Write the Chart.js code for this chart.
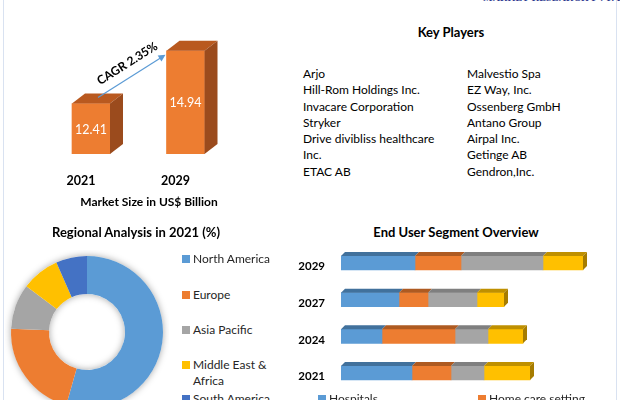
<!DOCTYPE html>
<html>
<head>
<meta charset="utf-8">
<script src="https://cdn.jsdelivr.net/npm/chart.js@4.4.1/dist/chart.umd.min.js"></script>
<style>
  body { margin: 0; width: 620px; height: 400px; overflow: hidden; background: #fff; position: relative; font-family: Lato, "Open Sans", sans-serif; color: #000; }
  .abs { position: absolute; }
  .vline { position: absolute; top: 0; width: 1px; height: 400px; background: #d9e2f1; }
  .title { position: absolute; font-weight: bold; font-size: 13px; white-space: nowrap; transform: translate(-50%, -50%); }
  .col { position: absolute; font-size: 12px; line-height: 16.3px; white-space: nowrap; }
  .leg { position: absolute; font-size: 12px; color: #262626; white-space: nowrap; }
  .leg .sq { display: inline-block; width: 8px; height: 8px; margin-right: 3px; }
</style>
</head>
<body>
<div class="vline" style="left:3px"></div>
<div class="vline" style="left:616px"></div>
<div class="abs" style="left:483px; top:-8px; white-space:nowrap; font: bold 10px 'Liberation Serif', serif; color:#2f3a8f; letter-spacing:0.2px;">MARKET RESEARCH PVT. LTD.</div>

<canvas id="marketChart" class="abs" width="260" height="215" style="left:0; top:0"></canvas>
<div class="title" style="left:149px; top:201px; font-size:12px">Market Size in US$ Billion</div>

<div class="title" style="left:451px; top:32px">Key Players</div>
<div id="playersLeft" class="col" style="left:303px; top:66px"></div>
<div id="playersRight" class="col" style="left:467px; top:66px"></div>

<div class="title" style="left:136px; top:232px">Regional Analysis in 2021 (%)</div>
<canvas id="regionChart" class="abs" width="164" height="164" style="left:5px; top:250px"></canvas>
<div id="regionLegend"></div>

<div class="title" style="left:456px; top:232px">End User Segment Overview</div>
<canvas id="endUserChart" class="abs" width="330" height="160" style="left:290px; top:240px"></canvas>
<div id="endUserLegend"></div>

<script>
// Market size
const years = ['2021', '2029'];
const marketSize = [12.41, 14.94];
const cagrText = 'CAGR 2.35%';

// Key players
const playersLeft = ['Arjo', 'Hill-Rom Holdings Inc.', 'Invacare Corporation', 'Stryker', 'Drive divibliss healthcare', 'Inc.', 'ETAC AB'];
const playersRight = ['Malvestio Spa', 'EZ Way, Inc.', 'Ossenberg GmbH', 'Antano Group', 'Airpal Inc.', 'Getinge AB', 'Gendron,Inc.'];

// Regional analysis 2021 (%)
const regions = ['North America', 'Europe', 'Asia Pacific', 'Middle East & Africa', 'South America'];
const regionShare = [54.4, 21.3, 9.6, 8.1, 6.6];
const regionColors = ['#5b9bd5', '#ed7d31', '#a5a5a5', '#ffc000', '#4472c4'];

// End user segments
const segmentYears = ['2029', '2027', '2024', '2021'];
const hospitals = [7.4, 5.8, 4.1, 7.1];
const homeCare = [4.6, 2.9, 7.3, 3.9];
const nursingFacilities = [8.2, 4.9, 3.3, 3.3];
const others = [4.0, 2.7, 3.5, 4.6];
const segmentNames = ['Hospitals', 'Home care setting', 'Nursing facilities', 'Others'];
const segmentColors = ['#5b9bd5', '#ed7d31', '#a5a5a5', '#ffc000'];
const segmentTops = ['#41719c', '#ae5a21', '#7f7f7f', '#bf9000'];

document.getElementById('playersLeft').innerHTML = playersLeft.join('<br>');
document.getElementById('playersRight').innerHTML = playersRight.join('<br>');

// ---------- 3D look for the market bars ----------
const marketFaces = {
    id: 'marketFaces',
    afterDatasetsDraw(chart) {
        const ctx = chart.ctx;
        const bars = chart.getDatasetMeta(0).data;
        const dx = 13, dy = 10;
        ctx.save();
        bars.forEach((bar, i) => {
            const p = bar.getProps(['x', 'y', 'base', 'width'], true);
            const x = p.x, y = p.y, width = p.width;
            const base = Math.min(p.base, chart.chartArea.bottom);
            const l = x - width / 2, r = x + width / 2;
            // top
            ctx.fillStyle = '#b9591f';
            ctx.beginPath();
            ctx.moveTo(l, y); ctx.lineTo(l + dx, y - dy); ctx.lineTo(r + dx, y - dy); ctx.lineTo(r, y);
            ctx.closePath(); ctx.fill();
            // side
            ctx.fillStyle = '#9b4b1d';
            ctx.beginPath();
            ctx.moveTo(r, y); ctx.lineTo(r + dx, y - dy); ctx.lineTo(r + dx, base - dy); ctx.lineTo(r, base);
            ctx.closePath(); ctx.fill();
            // value
            ctx.fillStyle = '#fff';
            ctx.font = '12.5px Lato';
            ctx.textAlign = 'center';
            ctx.textBaseline = 'middle';
            ctx.fillText(marketSize[i].toFixed(2), x, (y + base) / 2 + 1);
        });
        // CAGR arrow
        const b1 = bars[0], b2 = bars[1];
        const sx = b1.x + 7, sy = b1.y - 6;
        const ex = b2.x - b2.width / 2 - 1, ey = b2.y + 4;
        const ang = Math.atan2(ey - sy, ex - sx);
        ctx.strokeStyle = '#5b9bd5';
        ctx.fillStyle = '#5b9bd5';
        ctx.lineWidth = 1.2;
        ctx.beginPath(); ctx.moveTo(sx, sy); ctx.lineTo(ex - 5 * Math.cos(ang), ey - 5 * Math.sin(ang)); ctx.stroke();
        ctx.beginPath();
        ctx.moveTo(ex, ey);
        ctx.lineTo(ex - 7 * Math.cos(ang) + 3.5 * Math.sin(ang), ey - 7 * Math.sin(ang) - 3.5 * Math.cos(ang));
        ctx.lineTo(ex - 7 * Math.cos(ang) - 3.5 * Math.sin(ang), ey - 7 * Math.sin(ang) + 3.5 * Math.cos(ang));
        ctx.closePath(); ctx.fill();
        const mx = (sx + ex) / 2 + 3 * Math.cos(ang), my = (sy + ey) / 2 + 3 * Math.sin(ang);
        ctx.translate(mx + 13 * Math.sin(ang), my - 13 * Math.cos(ang));
        ctx.rotate(ang);
        ctx.fillStyle = '#000';
        ctx.font = 'bold 12px Lato';
        ctx.textAlign = 'center';
        ctx.textBaseline = 'middle';
        ctx.fillText(cagrText, 0, 0);
        ctx.restore();
    }
};

new Chart(document.getElementById('marketChart'), {
    type: 'bar',
    data: {
        labels: years,
        datasets: [{ data: marketSize, backgroundColor: '#ed7d31', barThickness: 38 }]
    },
    options: {
        responsive: false,
        animation: false,
        layout: { padding: { left: 43.75, right: 27.25, top: 39, bottom: 0 } },
        plugins: { legend: { display: false }, tooltip: { enabled: false } },
        scales: {
            y: { display: false, min: 10, max: 15.5 },
            x: {
                grid: { display: false, drawTicks: false },
                border: { display: false },
                ticks: { color: '#000', font: { family: 'Lato', weight: 'bold', size: 12.5 }, padding: 19, labelOffset: -10 },
                afterFit: (s) => { s.height = 61; s.paddingLeft = 0; s.paddingRight = 0; }
            }
        }
    },
    plugins: [marketFaces]
});

// ---------- Regional doughnut ----------
const ringShadow = {
    id: 'ringShadow',
    beforeDatasetsDraw(chart) {
        const arc = chart.getDatasetMeta(0).data[0];
        if (!arc) return;
        const {x, y, outerRadius, innerRadius} = arc.getProps(['x', 'y', 'outerRadius', 'innerRadius'], true);
        const ctx = chart.ctx;
        ctx.save();
        ctx.shadowColor = 'rgba(0,0,0,0.35)';
        ctx.shadowBlur = 7;
        ctx.fillStyle = '#fff';
        ctx.beginPath();
        ctx.arc(x, y, outerRadius, 0, Math.PI * 2);
        ctx.arc(x, y, innerRadius, 0, Math.PI * 2, true);
        ctx.fill('evenodd');
        ctx.restore();
    }
};

new Chart(document.getElementById('regionChart'), {
    type: 'doughnut',
    data: {
        labels: regions,
        datasets: [{ data: regionShare, backgroundColor: regionColors, borderWidth: 0 }]
    },
    options: {
        responsive: false,
        animation: false,
        cutout: '50%',
        layout: { padding: 6 },
        plugins: { legend: { display: false }, tooltip: { enabled: false } }
    },
    plugins: [ringShadow]
});

const regionLegendTops = [251, 287, 322, 357, 391];
document.getElementById('regionLegend').innerHTML = regions.map((r, i) => {
    const txt = r === 'Middle East & Africa' ? 'Middle East &amp;<br>Africa' : r;
    return '<div class="leg" style="left:182px; top:' + regionLegendTops[i] + 'px; line-height:16px">' +
        '<span class="sq" style="background:' + regionColors[i] + '; vertical-align:0px"></span>' +
        '<span style="display:inline-block; vertical-align:top">' + txt + '</span></div>';
}).join('');

// ---------- End user stacked bars ----------
const stackFaces = {
    id: 'stackFaces',
    afterDatasetsDraw(chart) {
        const ctx = chart.ctx;
        const dx = 4, dy = 4;
        const n = chart.data.datasets.length;
        ctx.save();
        for (let d = 0; d < n; d++) {
            chart.getDatasetMeta(d).data.forEach((bar) => {
                const {x, y, base, height} = bar.getProps(['x', 'y', 'base', 'height'], true);
                const top = y - height / 2, bottom = y + height / 2;
                ctx.fillStyle = segmentTops[d];
                ctx.beginPath();
                ctx.moveTo(base, top); ctx.lineTo(base + dx, top - dy); ctx.lineTo(x + dx, top - dy); ctx.lineTo(x, top);
                ctx.closePath(); ctx.fill();
                if (d === n - 1) {
                    ctx.fillStyle = '#a67c00';
                    ctx.beginPath();
                    ctx.moveTo(x, top); ctx.lineTo(x + dx, top - dy); ctx.lineTo(x + dx, bottom - dy); ctx.lineTo(x, bottom);
                    ctx.closePath(); ctx.fill();
                }
            });
        }
        ctx.restore();
    }
};

const segmentData = [hospitals, homeCare, nursingFacilities, others];

new Chart(document.getElementById('endUserChart'), {
    type: 'bar',
    data: {
        labels: segmentYears,
        datasets: segmentData.map((vals, i) => ({
            label: segmentNames[i],
            data: vals,
            backgroundColor: segmentColors[i],
            barThickness: 14
        }))
    },
    options: {
        indexAxis: 'y',
        responsive: false,
        animation: false,
        layout: { padding: { left: 0, right: 19, top: 4.7, bottom: 8.7 } },
        plugins: { legend: { display: false }, tooltip: { enabled: false } },
        scales: {
            x: { display: false, stacked: true, min: 0, max: 26 },
            y: {
                stacked: true,
                grid: { display: false, drawTicks: false },
                border: { display: false },
                ticks: { color: '#000', font: { family: 'Lato', weight: 'bold', size: 11.5 }, padding: 16, labelOffset: 3.5 },
                afterFit: (s) => { s.width = 51; s.paddingTop = 0; s.paddingBottom = 0; }
            }
        }
    },
    plugins: [stackFaces]
});

const endLegendPos = [[318, 391], [478, 391], [318, 409], [478, 409]];
document.getElementById('endUserLegend').innerHTML = segmentNames.map((s, i) =>
    '<div class="leg" style="left:' + endLegendPos[i][0] + 'px; top:' + endLegendPos[i][1] + 'px">' +
    '<span class="sq" style="background:' + segmentColors[i] + '"></span>' + s + '</div>'
).join('');
</script>
</body>
</html>
